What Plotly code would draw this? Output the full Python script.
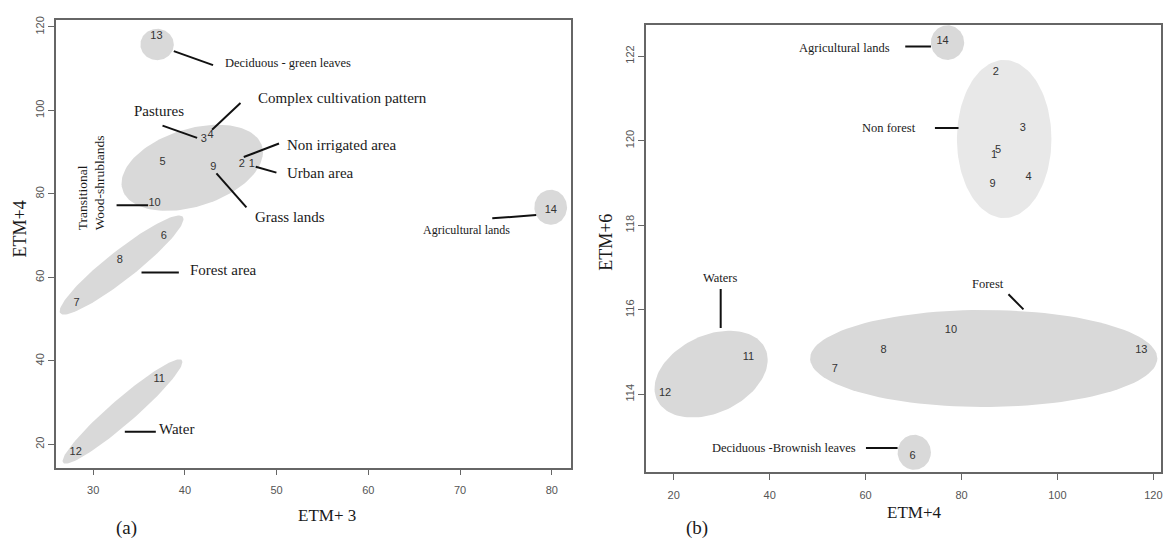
import numpy as np
import plotly.graph_objects as go

# ---------------- panel (a): ETM+3 vs ETM+4 ----------------
a_ids = ["1", "2", "3", "4", "5", "6", "7", "8", "9", "10", "11", "12", "13", "14"]
a_x = [47.3, 46.2, 42.06, 42.8, 37.56, 37.7, 28.2, 32.9, 43.1, 36.7, 37.2, 28.1, 36.9, 79.9]
a_y = [87.05, 87.2, 93.0, 94.0, 87.6, 69.8, 53.7, 64.0, 86.5, 77.7, 35.5, 18.0, 117.8, 76.2]

# ellipse groups: centre, half extents and correlation (tilt)
a_ell_cx = [36.97, 40.8, 33.1, 33.2, 79.88]
a_ell_cy = [115.8, 86.26, 62.97, 27.88, 76.8]
a_ell_sx = [1.82, 7.71, 6.75, 6.53, 1.78]
a_ell_sy = [3.76, 10.31, 11.87, 12.5, 4.2]
a_ell_rho = [0.0, 0.36, 0.93, 0.95, 0.0]

# class labels with leader segments
a_lab_text = ["Deciduous - green leaves", "Complex cultivation pattern", "Pastures",
              "Non irrigated area", "Urban area", "Grass lands", "Forest area", "Water",
              "Agricultural lands"]
a_lab_x = [44.13, 47.72, 37.21, 50.92, 50.92, 47.43, 40.35, 36.97, 70.73]
a_lab_y = [111.3, 102.94, 99.78, 91.84, 85.1, 74.4, 61.8, 23.66, 71.24]
a_lab_size = [12.5, 15, 15, 15, 15, 15, 15, 15, 12]
a_lab_anchor = ["left", "left", "center", "left", "left", "left", "left", "left", "center"]
a_seg_x0 = [38.79, 42.96, 37.56, 46.42, 47.72, 43.44, 32.55, 35.27, 33.45, 73.51]
a_seg_y0 = [114.2, 95.4, 96.36, 88.84, 86.53, 84.94, 77.3, 61.15, 23.02, 74.16]
a_seg_x1 = [43.07, 46.06, 41.33, 50.26, 49.98, 46.71, 35.99, 39.34, 36.83, 78.3]
a_seg_y1 = [110.87, 101.76, 93.43, 92.07, 85.1, 76.78, 77.3, 61.15, 23.02, 74.95]
a_trans_x, a_trans_y = 29.83, 70.83

# ---------------- panel (b): ETM+4 vs ETM+6 ----------------
b_ids = ["1", "2", "3", "4", "5", "6", "7", "8", "9", "10", "11", "12", "13", "14"]
b_x = [86.8, 87.17, 92.8, 93.96, 87.65, 69.8, 53.6, 63.75, 86.46, 77.8, 35.56, 18.2, 117.5, 76.06]
b_y = [119.65, 121.62, 120.3, 119.13, 119.77, 112.54, 114.59, 115.05, 118.97, 115.51, 114.89, 114.03, 115.04, 122.36]

b_ell_cx = [77.08, 88.9, 84.63, 27.79, 70.15]
b_ell_cy = [122.32, 120.04, 114.85, 114.48, 112.63]
b_ell_sx = [3.47, 9.85, 36.2, 11.8, 3.47]
b_ell_sy = [0.41, 1.87, 1.147, 1.026, 0.415]
b_ell_rho = [0.0, 0.0, 0.0, 0.33, 0.0]
b_ell_fill = ["#d9d9d9", "#e8e8e8", "#d9d9d9", "#d9d9d9", "#d9d9d9"]

b_lab_text = ["Agricultural lands", "Non forest", "Waters", "Forest", "Deciduous -Brownish leaves"]
b_lab_x = [55.56, 64.9, 29.67, 85.56, 43.06]
b_lab_y = [122.2, 120.3, 116.76, 116.61, 112.73]
b_seg_x0 = [68.27, 74.46, 29.79, 89.79, 60.08]
b_seg_y0 = [122.23, 120.3, 116.49, 116.37, 112.73]
b_seg_x1 = [73.63, 79.38, 29.79, 92.92, 66.67]
b_seg_y1 = [122.23, 120.3, 115.57, 116.01, 112.73]

SERIF = "Liberation Serif, Times New Roman, serif"
SANS = "Liberation Sans, Arial, sans-serif"
TXT = "#1a1a1a"


def ellipse(cx, cy, sx, sy, rho, n=120):
    t = np.linspace(0, 2 * np.pi, n)
    x = cx + sx * np.cos(t)
    y = cy + sy * (rho * np.cos(t) + np.sqrt(1 - rho ** 2) * np.sin(t))
    return x, y


fig = go.Figure()

for i in range(len(a_ell_cx)):
    ex, ey = ellipse(a_ell_cx[i], a_ell_cy[i], a_ell_sx[i], a_ell_sy[i], a_ell_rho[i])
    fig.add_trace(go.Scatter(x=ex, y=ey, mode="lines", fill="toself", fillcolor="#d9d9d9",
                             line=dict(width=0, color="#d9d9d9"), hoverinfo="skip",
                             xaxis="x", yaxis="y"))
for i in range(len(b_ell_cx)):
    ex, ey = ellipse(b_ell_cx[i], b_ell_cy[i], b_ell_sx[i], b_ell_sy[i], b_ell_rho[i])
    fig.add_trace(go.Scatter(x=ex, y=ey, mode="lines", fill="toself", fillcolor=b_ell_fill[i],
                             line=dict(width=0, color=b_ell_fill[i]), hoverinfo="skip",
                             xaxis="x2", yaxis="y2"))

fig.add_trace(go.Scatter(x=a_x, y=a_y, text=a_ids, mode="text",
                         textfont=dict(family=SANS, size=11, color="#333"),
                         xaxis="x", yaxis="y"))
fig.add_trace(go.Scatter(x=b_x, y=b_y, text=b_ids, mode="text",
                         textfont=dict(family=SANS, size=11, color="#333"),
                         xaxis="x2", yaxis="y2"))

shapes = []
for x0, y0, x1, y1 in zip(a_seg_x0, a_seg_y0, a_seg_x1, a_seg_y1):
    shapes.append(dict(type="line", xref="x", yref="y", x0=x0, y0=y0, x1=x1, y1=y1,
                       line=dict(color="#111", width=2)))
for x0, y0, x1, y1 in zip(b_seg_x0, b_seg_y0, b_seg_x1, b_seg_y1):
    shapes.append(dict(type="line", xref="x2", yref="y2", x0=x0, y0=y0, x1=x1, y1=y1,
                       line=dict(color="#111", width=2)))

ann = []
for t, x, y, s, anc in zip(a_lab_text, a_lab_x, a_lab_y, a_lab_size, a_lab_anchor):
    ann.append(dict(text=t, x=x, y=y, xref="x", yref="y", xanchor=anc, yanchor="middle",
                    showarrow=False, font=dict(family=SERIF, size=s, color=TXT)))
ann.append(dict(text="Transitional<br>Wood-shrublands", x=a_trans_x, y=a_trans_y,
                xref="x", yref="y", xanchor="center", yanchor="bottom", textangle=-90,
                align="left", showarrow=False,
                font=dict(family=SERIF, size=13.5, color=TXT)))
for t, x, y in zip(b_lab_text, b_lab_x, b_lab_y):
    ann.append(dict(text=t, x=x, y=y, xref="x2", yref="y2", xanchor="center", yanchor="middle",
                    showarrow=False, font=dict(family=SERIF, size=12.5, color=TXT)))

# axis titles and panel tags
for t, x, y, s, ang in [("ETM+ 3", 0.281, 0.0498, 17, 0), ("ETM+4", 0.0172, 0.581, 18, -90),
                        ("(a)", 0.1088, 0.0258, 19, 0), ("ETM+4", 0.786, 0.0554, 17, 0),
                        ("ETM+6", 0.5215, 0.557, 18, -90), ("(b)", 0.5997, 0.0258, 19, 0)]:
    ann.append(dict(text=t, x=x, y=y, xref="paper", yref="paper", xanchor="center",
                    yanchor="middle", showarrow=False, textangle=ang,
                    font=dict(family=SERIF, size=s, color=TXT)))

axis_common = dict(showgrid=False, zeroline=False, showline=True, mirror=True,
                   linecolor="#666", linewidth=1.5, ticks="outside", ticklen=6,
                   tickcolor="#666", tickwidth=1.2,
                   tickfont=dict(family=SANS, size=11, color="#555"))

fig.update_layout(
    width=1164, height=542, margin=dict(l=0, r=0, t=0, b=0),
    paper_bgcolor="white", plot_bgcolor="white", showlegend=False,
    shapes=shapes, annotations=ann,
    xaxis=dict(domain=[0.0481, 0.4914], range=[25.94, 82.15], tickvals=[30, 40, 50, 60, 70, 80],
               ticklabelstandoff=6, anchor="y", **axis_common),
    yaxis=dict(domain=[0.1384, 0.9705], range=[14.45, 121.7], tickvals=[20, 40, 60, 80, 100, 120],
               tickangle=270, anchor="x", **axis_common),
    xaxis2=dict(domain=[0.5556, 0.9983], range=[14.25, 121.6], tickvals=[20, 40, 60, 80, 100, 120],
                ticklabelstandoff=6, anchor="y2", **axis_common),
    yaxis2=dict(domain=[0.1297, 0.9613], range=[112.16, 122.74], tickvals=[114, 116, 118, 120, 122],
                tickangle=270, anchor="x2", **axis_common),
)

fig.write_html("out.html")
